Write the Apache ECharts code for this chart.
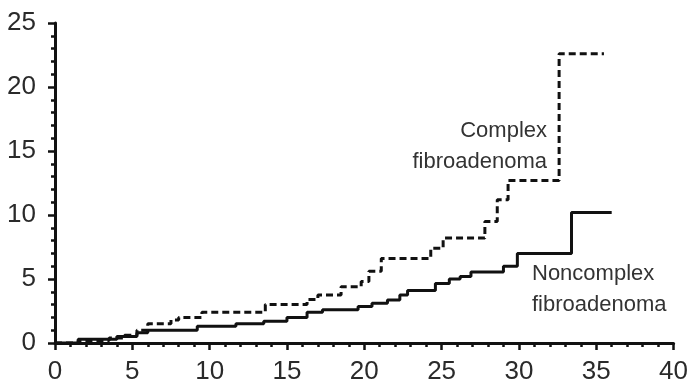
<!DOCTYPE html>
<html><head><meta charset="utf-8">
<script src="https://cdn.jsdelivr.net/npm/echarts@6/dist/echarts.min.js"></script>
<style>html,body{margin:0;padding:0;background:#fff}#c{width:691px;height:386px}</style>
</head><body><div id="c"></div>
<script>
const xTicks = [0, 5, 10, 15, 20, 25, 30, 35, 40];
const yTicks = [0, 5, 10, 15, 20, 25];
const complexX = [0, 1.5, 3.5, 4.5, 5.3, 6.0, 7.5, 8.0, 9.5, 13.6, 16.3, 17.0, 18.5, 19.8, 20.3, 21.1, 24.3, 25.1, 27.8, 28.6, 29.3, 32.6, 35.5];
const complexY = [0, 0.2, 0.4, 0.6, 1.0, 1.5, 1.8, 2.0, 2.4, 3.0, 3.4, 3.75, 4.4, 4.8, 5.6, 6.6, 7.4, 8.2, 9.5, 11.2, 12.7, 22.6, 22.6];
const noncomplexX = [0, 1.5, 4.0, 5.3, 6.0, 9.2, 11.7, 13.5, 15.0, 16.3, 17.3, 19.6, 20.5, 21.5, 22.3, 22.8, 24.6, 25.5, 26.2, 26.9, 29.0, 29.9, 33.4, 36.0];
const noncomplexY = [0, 0.3, 0.5, 0.8, 1.0, 1.3, 1.5, 1.7, 2.0, 2.4, 2.6, 2.85, 3.1, 3.35, 3.75, 4.1, 4.65, 5.0, 5.2, 5.55, 6.0, 7.0, 10.2, 10.2];
const labelComplex = 'Complex\nfibroadenoma';
const labelNoncomplex = 'Noncomplex\nfibroadenoma';

const zip = (xs, ys) => xs.map((x, i) => [x, ys[i]]);
const font = 'Liberation Sans, Arial, sans-serif';
const chart = echarts.init(document.getElementById('c'), null, {renderer: 'canvas'});
const axisCommon = {
  axisLine: {show: true, onZero: false, lineStyle: {color: '#111', width: 3}},
  axisTick: {show: true, inside: false, length: 7, lineStyle: {color: '#111', width: 2.5}},
  minorTick: {show: true, splitNumber: 5, length: 4, lineStyle: {color: '#111', width: 2.5}},
  splitLine: {show: false},
  axisLabel: {color: '#2a2a2a', fontSize: 26, fontFamily: font}
};
chart.setOption({
  animation: false,
  backgroundColor: '#fff',
  grid: {left: 55, right: 14, top: 23, bottom: 43, containLabel: false},
  xAxis: Object.assign({}, axisCommon, {
    type: 'value', min: xTicks[0], max: xTicks[xTicks.length - 1], interval: 5,
    axisLabel: Object.assign({}, axisCommon.axisLabel, {margin: 16, formatter: v => xTicks.includes(v) ? String(v) : ''})
  }),
  yAxis: Object.assign({}, axisCommon, {
    type: 'value', min: yTicks[0], max: yTicks[yTicks.length - 1], interval: 5,
    axisLabel: Object.assign({}, axisCommon.axisLabel, {margin: 19, formatter: v => yTicks.includes(v) ? String(v) : ''})
  }),
  series: [
    {
      name: 'Complex', type: 'line', step: 'end', symbol: 'none',
      data: zip(complexX, complexY),
      lineStyle: {color: '#111', width: 3, type: [7, 4]},
      z: 3
    },
    {
      name: 'Noncomplex', type: 'line', step: 'end', symbol: 'none',
      data: zip(noncomplexX, noncomplexY),
      lineStyle: {color: '#111', width: 3},
      z: 4
    }
  ],
  graphic: [
    {type: 'text', right: 691 - 547, top: 115,
     style: {text: labelComplex, fill: '#333', font: '22px ' + font, textAlign: 'right', lineHeight: 31}},
    {type: 'text', left: 532, top: 258,
     style: {text: labelNoncomplex, fill: '#333', font: '22px ' + font, textAlign: 'left', lineHeight: 31}}
  ]
});
</script></body></html>
